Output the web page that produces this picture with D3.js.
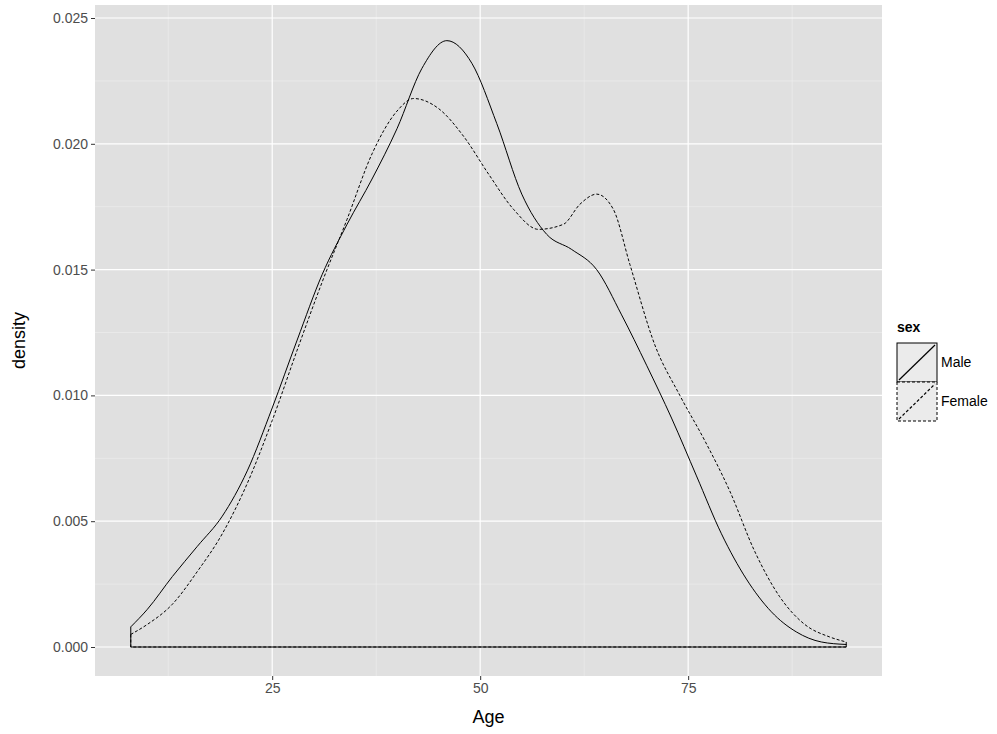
<!DOCTYPE html>
<html><head><meta charset="utf-8">
<script src="https://cdn.jsdelivr.net/npm/d3@7"></script>
<style>body{margin:0;background:#fff;font-family:"Liberation Sans",Arial,sans-serif}</style>
</head><body><svg id="c" width="997" height="734"></svg>
<script>
const maleAge=[8,10,13,16,19,22,25,28,31,34,37,40,43,46,49,52,55,58,61,64,67,70,73,76,79,82,85,88,91,94];
const maleDensity=[0.0008,0.0015,0.0028,0.0040,0.0052,0.0070,0.0095,0.0122,0.0148,0.0168,0.0186,0.0206,0.0230,0.0241,0.0232,0.0208,0.0180,0.0164,0.0158,0.0150,0.0132,0.0112,0.0091,0.0068,0.0045,0.0027,0.0014,0.0006,0.0002,0.0001];
const femaleAge=[8,10,13,16,19,22,25,28,31,34,37,40,42,45,48,51,54,57,60,62,64,66,68,71,74,77,80,83,86,89,92,94];
const femaleDensity=[0.0005,0.0009,0.0017,0.0030,0.0045,0.0065,0.0090,0.0118,0.0145,0.0170,0.0196,0.0213,0.0218,0.0214,0.0203,0.0188,0.0174,0.0166,0.0168,0.0176,0.0180,0.0174,0.0152,0.0120,0.0100,0.0082,0.0062,0.0038,0.0020,0.0009,0.0004,0.0002];
const xTicks=[25,50,75], yTicks=[0,0.005,0.01,0.015,0.02,0.025];
const svg=d3.select("#c");
const L=95,R=882,T=5,B=676;
const x=d3.scaleLinear().domain([3.7,98.3]).range([L,R]);
const y=d3.scaleLinear().domain([0,0.025]).range([647,18]);
svg.append("rect").attr("x",L).attr("y",T).attr("width",R-L).attr("height",B-T).attr("fill","#e0e0e0");
[12.5,37.5,62.5,87.5].forEach(v=>svg.append("line").attr("x1",x(v)).attr("x2",x(v)).attr("y1",T).attr("y2",B).attr("stroke","#efefef").attr("stroke-width",0.6));
[0.0025,0.0075,0.0125,0.0175,0.0225].forEach(v=>svg.append("line").attr("x1",L).attr("x2",R).attr("y1",y(v)).attr("y2",y(v)).attr("stroke","#efefef").attr("stroke-width",0.6));
xTicks.forEach(v=>svg.append("line").attr("x1",x(v)).attr("x2",x(v)).attr("y1",T).attr("y2",B).attr("stroke","#fff").attr("stroke-width",1.2));
yTicks.forEach(v=>svg.append("line").attr("x1",L).attr("x2",R).attr("y1",y(v)).attr("y2",y(v)).attr("stroke","#fff").attr("stroke-width",1.2));
function poly(ax,dv,dash){
  const pts=ax.map((a,i)=>[a,dv[i]]);
  const line=d3.line().x(d=>x(d[0])).y(d=>y(d[1])).curve(d3.curveMonotoneX);
  let p=line(pts)+"L"+x(ax[ax.length-1])+","+y(0)+"L"+x(ax[0])+","+y(0)+"Z";
  svg.append("path").attr("d",p).attr("fill","none").attr("stroke","#000").attr("stroke-width",1).attr("stroke-dasharray",dash);
}
poly(femaleAge,femaleDensity,"3,2");
poly(maleAge,maleDensity,null);
const xa=svg.append("g").attr("transform",`translate(0,${B})`).call(d3.axisBottom(x).tickValues(xTicks).tickSize(4));
const ya=svg.append("g").attr("transform",`translate(${L},0)`).call(d3.axisLeft(y).tickValues(yTicks).tickFormat(d3.format(".3f")).tickSize(4));
[xa,ya].forEach(g=>{g.select(".domain").remove();g.selectAll("line").attr("stroke","#333");g.selectAll("text").attr("fill","#4d4d4d").attr("font-size",14).attr("font-family","Liberation Sans, Arial");});
svg.append("text").attr("x",(L+R)/2).attr("y",723).attr("text-anchor","middle").attr("font-size",18).text("Age");
svg.append("text").attr("transform",`translate(25,${(T+B)/2}) rotate(-90)`).attr("text-anchor","middle").attr("font-size",18).text("density");
const lg=svg.append("g");
lg.append("text").attr("x",897).attr("y",332).attr("font-weight","bold").attr("font-size",14).text("sex");
[["Male",null,343],["Female","3,2",382]].forEach(([n,d,yy])=>{
  lg.append("rect").attr("x",897).attr("y",yy).attr("width",40).attr("height",39).attr("fill","#ebebeb").attr("stroke","#000").attr("stroke-dasharray",d);
  lg.append("line").attr("x1",899).attr("y1",yy+37).attr("x2",935).attr("y2",yy+2).attr("stroke","#000").attr("stroke-width",1.2).attr("stroke-dasharray",d);
  lg.append("text").attr("x",941).attr("y",yy+24).attr("font-size",14).text(n);
});
</script></body></html>
